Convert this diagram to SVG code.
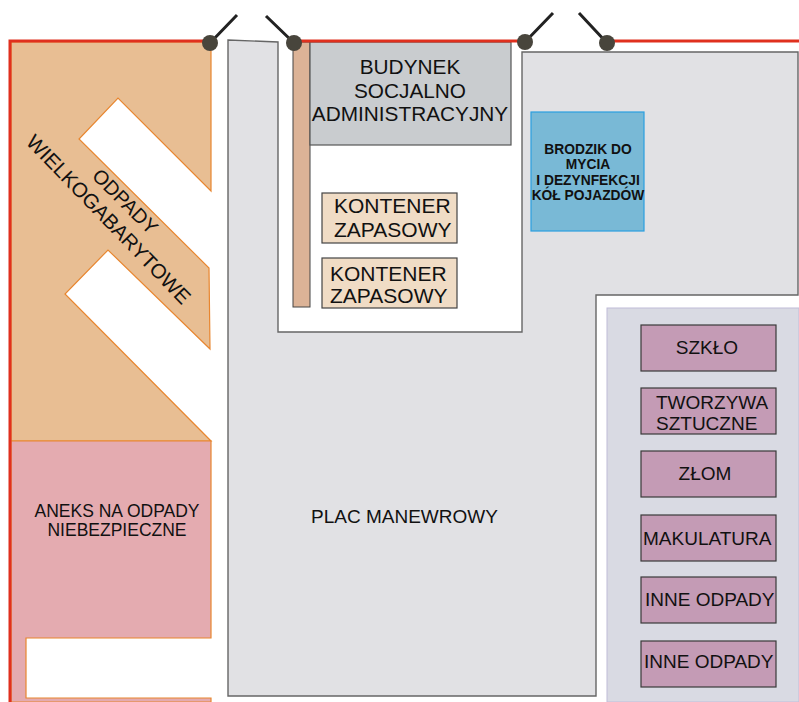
<svg xmlns="http://www.w3.org/2000/svg" width="799" height="702" viewBox="0 0 799 702">
<style>
text{font-family:"Liberation Sans",Arial,sans-serif;fill:#111;font-size:19px}
.m{text-anchor:middle}
.b{font-size:20.8px}
.c{font-size:21px}
.a{font-size:17.5px}
.w{font-size:20px}
.x{font-size:20.5px}
.d{font-size:13.8px;font-weight:bold}
.box{fill:#c49bb5;stroke:#3a3a3a;stroke-width:1.2}
.cont{fill:#f0dcc5;stroke:#444;stroke-width:1.2}
.zone{stroke:#e8862f;stroke-width:1.2}
.gate{fill:#48453c}
.arm{stroke:#222;stroke-width:3;fill:none}
.red{stroke:#e0301e;stroke-width:3;fill:none}
</style>
<rect width="799" height="702" fill="#fff"/>
<g id="plac">
<path d="M228 40L278 42V332H522V52H798V295H596V696H228Z" fill="#e1e1e4" stroke="#666" stroke-width="1.4"/>
<text x="311" y="523">PLAC MANEWROWY</text>
</g>
<g id="wielkogabarytowe">
<path class="zone" fill="#e8be93" d="M11 42H211V191L118 98L79 139L209 268L210 349L108 250L65 294L211 441H11Z"/>
<text class="w" transform="translate(91 177) rotate(45)">ODPADY</text>
<text class="x" transform="translate(25 143) rotate(46)">WIELKOGABARYTOWE</text>
</g>
<g id="aneks">
<path class="zone" fill="#e4abb0" d="M11 441H211V638H26V698H211V702H11Z"/>
<text class="m a" x="117" y="517">ANEKS NA ODPADY</text>
<text class="m a" x="117" y="536">NIEBEZPIECZNE</text>
</g>
<g id="ogrodzenie-bar"><rect x="293" y="42" width="17" height="265" fill="#dcb397" stroke="#444" stroke-width="1"/></g>
<g id="budynek">
<rect x="310" y="42" width="201" height="103" fill="#c9cccf" stroke="#555" stroke-width="1.2"/>
<text class="m b" x="410" y="74">BUDYNEK</text>
<text class="m b" x="410" y="98">SOCJALNO</text>
<text class="m b" x="410" y="121">ADMINISTRACYJNY</text>
</g>
<g id="kontener1">
<rect class="cont" x="322" y="193" width="135" height="50"/>
<text class="c" x="334" y="213">KONTENER</text>
<text class="c" x="334" y="237">ZAPASOWY</text>
</g>
<g id="kontener2">
<rect class="cont" x="322" y="258" width="135" height="50"/>
<text class="c" x="330" y="281">KONTENER</text>
<text class="c" x="330" y="303">ZAPASOWY</text>
</g>
<g id="brodzik">
<rect x="531" y="112" width="113" height="119" fill="#79b9d6" stroke="#2a9fdf" stroke-width="1.2"/>
<text class="m d" x="588" y="154">BRODZIK DO</text>
<text class="m d" x="588" y="169">MYCIA</text>
<text class="m d" x="588" y="185">I DEZYNFEKCJI</text>
<text class="m d" x="588" y="200">KÓŁ POJAZDÓW</text>
</g>
<g id="panel"><rect x="607" y="308" width="192" height="394" fill="#d9dae3" stroke="#c0bcd8" stroke-width="1"/></g>
<g id="szklo"><rect class="box" x="641" y="325" width="135" height="46"/><text class="m" x="707" y="354">SZKŁO</text></g>
<g id="tworzywa"><rect class="box" x="641" y="388" width="135" height="46"/><text x="656" y="409">TWORZYWA</text><text x="656" y="430">SZTUCZNE</text></g>
<g id="zlom"><rect class="box" x="641" y="451" width="135" height="46"/><text class="m" x="705" y="480">ZŁOM</text></g>
<g id="makulatura"><rect class="box" x="641" y="515" width="135" height="46"/><text x="643" y="545">MAKULATURA</text></g>
<g id="inne1"><rect class="box" x="641" y="577" width="135" height="46"/><text x="645" y="606">INNE ODPADY</text></g>
<g id="inne2"><rect class="box" x="641" y="641" width="135" height="46"/><text x="644" y="668">INNE ODPADY</text></g>
<g id="connectors">
<path class="red" d="M10 702V41H210M294 41H525M607 41H799"/>
<path class="arm" d="M210 43L237 15M294 43L266 16M525 42L553 13M607 43L579 13"/>
<circle class="gate" cx="210" cy="43" r="8"/><circle class="gate" cx="294" cy="43" r="8"/><circle class="gate" cx="525" cy="42" r="8"/><circle class="gate" cx="607" cy="43" r="8"/>
</g>
</svg>
